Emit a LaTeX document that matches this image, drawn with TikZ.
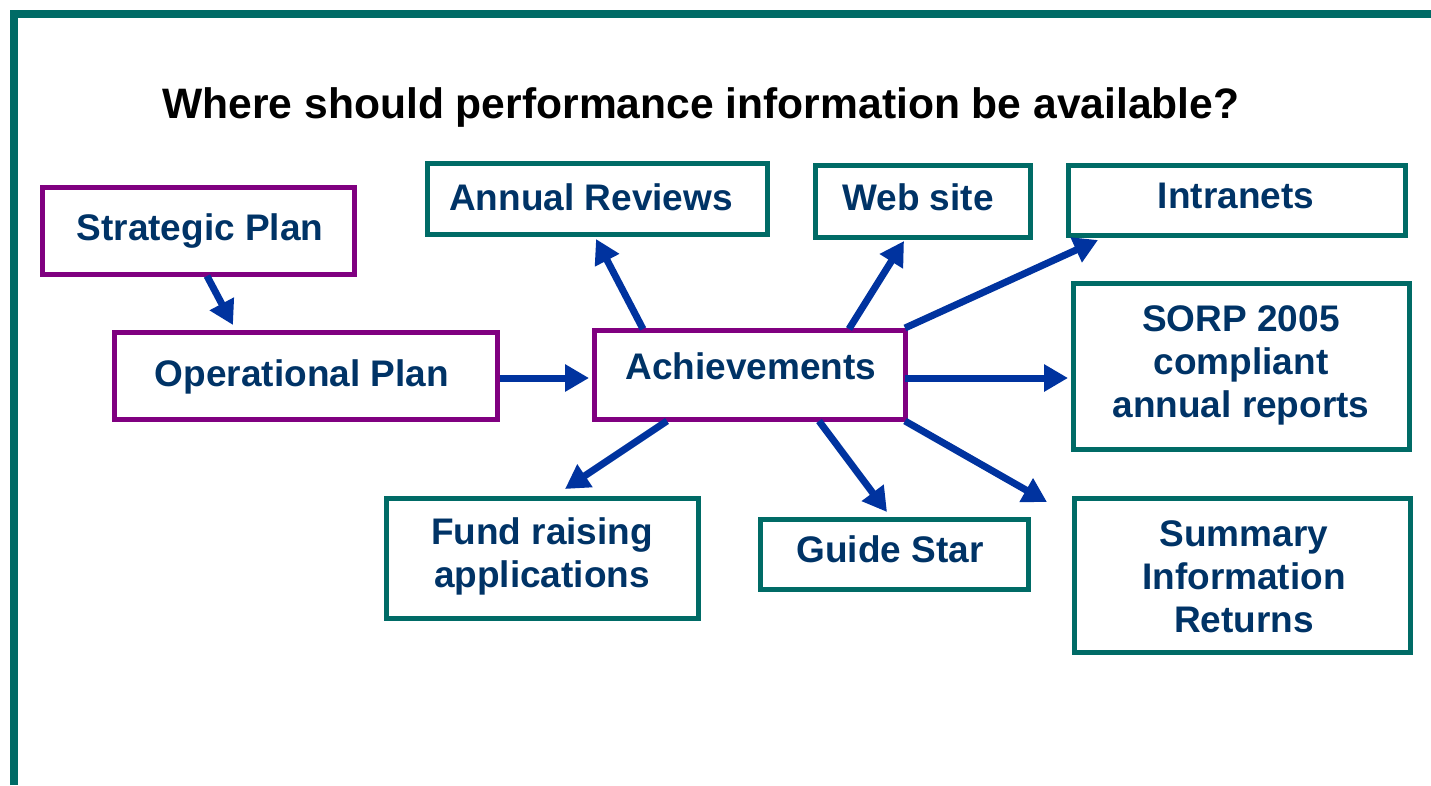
\documentclass[tikz,border=0pt]{standalone}
\usepackage{fontspec}
\setmainfont{Liberation Sans}
\usetikzlibrary{arrows.meta}
\definecolor{frameteal}{HTML}{006B66}
\definecolor{boxpurple}{HTML}{800080}
\definecolor{arrowblue}{HTML}{00339F}
\definecolor{txtnavy}{HTML}{003366}
\tikzset{
  pbox/.style={draw=boxpurple, line width=5pt, inner sep=0pt},
  tbox/.style={draw=frameteal, line width=5pt, inner sep=0pt},
  lbl/.style={text=txtnavy, font=\fontsize{37}{43}\selectfont\bfseries, align=center, inner sep=0pt},
  arr/.style={draw=arrowblue, line width=7pt, -{Triangle[length=24pt,width=26pt]}},
}
\begin{document}
\begin{tikzpicture}[x=1pt,y=-1pt]
\useasboundingbox (0,0) rectangle (1431,785);
% frame
\draw[frameteal, line width=8pt] (14,785) -- (14,14) -- (1431,14);
% title
\node[font=\fontsize{42.6}{48}\selectfont\bfseries, anchor=base, inner sep=0pt] (title) at (701,118) {Where should performance information be available?};
% boxes
\node[pbox, minimum width=312pt, minimum height=87pt] (sp) at (198,230.5) {};
\node[pbox, minimum width=383pt, minimum height=87pt] (op) at (305.5,375.5) {};
\node[pbox, minimum width=311pt, minimum height=89pt] (ach) at (750,375) {};
\node[tbox, minimum width=340pt, minimum height=71pt] (ar) at (597,198.5) {};
\node[tbox, minimum width=215pt, minimum height=72pt] (ws) at (922.5,201) {};
\node[tbox, minimum width=337pt, minimum height=70pt] (intr) at (1236.5,200) {};
\node[tbox, minimum width=336pt, minimum height=166pt] (sorp) at (1241,366) {};
\node[tbox, minimum width=312pt, minimum height=120pt] (fr) at (542,558) {};
\node[tbox, minimum width=268pt, minimum height=70pt] (gs) at (894,554) {};
\node[tbox, minimum width=336pt, minimum height=154pt] (sir) at (1242,575) {};
% labels (anchor=base refers to the last line)
\node[lbl, anchor=base] at (200,240) {Strategic Plan};
\node[lbl, anchor=base] at (302,386) {Operational Plan};
\node[lbl, anchor=base] at (751,379) {Achievements};
\node[lbl, anchor=base] at (591,210) {Annual Reviews};
\node[lbl, anchor=base] at (918,210) {Web site};
\node[lbl, anchor=base] at (1236,208) {Intranets};
\node[lbl, anchor=base] at (1241,417) {SORP 2005\\compliant\\annual reports};
\node[lbl, anchor=base] at (542,587) {Fund raising\\applications};
\node[lbl, anchor=base] at (890,562) {Guide Star};
\node[lbl, anchor=base] at (1244,632) {Summary\\Information\\Returns};
% arrow end points
\coordinate (a0s) at (207,276);  \coordinate (a0e) at (233,325);
\coordinate (a1s) at (500,378);  \coordinate (a1e) at (589,378);
\coordinate (a2s) at (643,329);  \coordinate (a2e) at (596,239);
\coordinate (a3s) at (849,329);  \coordinate (a3e) at (904,241);
\coordinate (a4s) at (905,328);  \coordinate (a4e) at (1098,240);
\coordinate (a5s) at (905,378);  \coordinate (a5e) at (1068,378);
\coordinate (a6s) at (667,421);  \coordinate (a6e) at (565,489);
\coordinate (a7s) at (819,421);  \coordinate (a7e) at (887,512);
\coordinate (a8s) at (905,421);  \coordinate (a8e) at (1047,502);
\draw[arr] (a0s) -- (a0e);
\draw[arr] (a1s) -- (a1e);
\draw[arr] (a2s) -- (a2e);
\draw[arr] (a3s) -- (a3e);
\draw[arr] (a4s) -- (a4e);
\draw[arr] (a5s) -- (a5e);
\draw[arr] (a6s) -- (a6e);
\draw[arr] (a7s) -- (a7e);
\draw[arr] (a8s) -- (a8e);
\end{tikzpicture}
\end{document}
